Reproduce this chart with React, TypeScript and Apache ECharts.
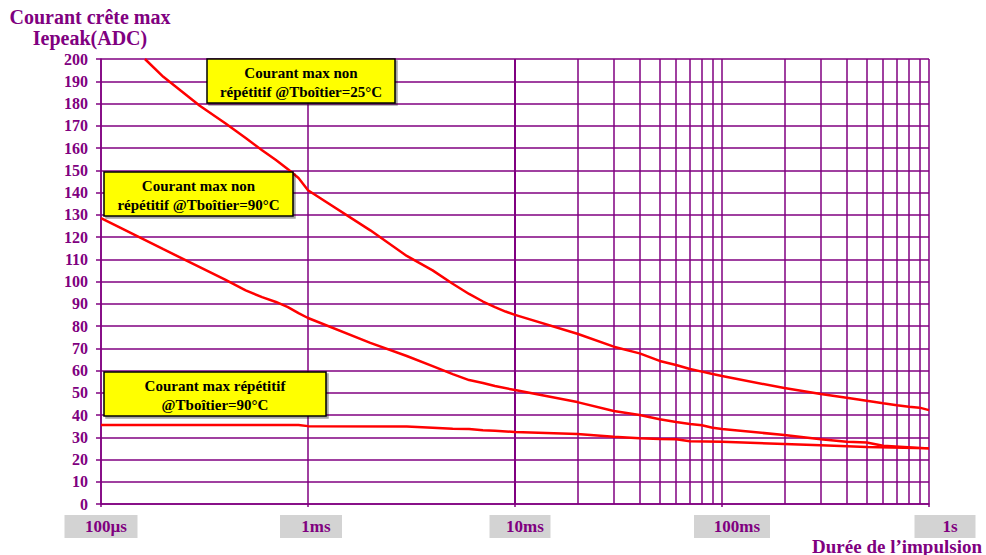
import React, { useEffect, useRef } from "react";
import * as echarts from "echarts";

// ---- data ----
const xTickLabels = ["100µs", "1ms", "10ms", "100ms", "1s"];
const minorGridValues = [
  2e-4, 3e-4, 4e-4, 5e-4, 6e-4, 7e-4, 8e-4, 9e-4,
  2e-3, 3e-3, 4e-3, 5e-3, 6e-3, 7e-3, 8e-3, 9e-3,
  2e-2, 3e-2, 4e-2, 5e-2, 6e-2, 7e-2, 8e-2, 9e-2,
  0.2, 0.3, 0.4, 0.5, 0.6, 0.7, 0.8, 0.9,
];

const t25 = [1.63e-4, 2e-4, 3e-4, 4e-4, 5e-4, 6e-4, 7e-4, 8e-4, 9e-4, 1e-3, 2e-3, 3e-3, 4e-3, 5e-3, 6e-3, 7e-3, 8e-3, 9e-3, 1e-2, 2e-2, 3e-2, 4e-2, 5e-2, 6e-2, 7e-2, 8e-2, 9e-2, 0.1, 0.2, 0.3, 0.4, 0.5, 0.6, 0.7, 0.8, 0.9, 1];
const v25 = [200, 192, 179, 171, 164.5, 159, 154.6, 150.5, 146.5, 141, 123, 111.5, 105, 99, 94.4, 91, 88.5, 86.5, 85, 76.5, 70.7, 67.7, 64.3, 62.5, 60.7, 59.5, 58.4, 57.5, 52.1, 49.4, 47.8, 46.4, 45.3, 44.4, 43.7, 43.3, 42.2];

const t90 = [1e-4, 2e-4, 3e-4, 4e-4, 5e-4, 6e-4, 7e-4, 8e-4, 9e-4, 1e-3, 2e-3, 3e-3, 4e-3, 5e-3, 6e-3, 7e-3, 8e-3, 1e-2, 2e-2, 3e-2, 4e-2, 5e-2, 6e-2, 7e-2, 8e-2, 9e-2, 0.1, 0.2, 0.3, 0.4, 0.5, 0.6, 1];
const v90 = [128.5, 114.5, 106.5, 100.7, 96, 93, 90.8, 88.5, 85.8, 83.6, 72.4, 66.5, 62, 58.4, 55.7, 54.4, 53, 51.2, 45.8, 41.8, 40, 38.1, 36.9, 36, 35.4, 34.3, 33.7, 31, 29.1, 28, 27.6, 26.2, 25];

const tRep = [1e-4, 9e-4, 1e-3, 3e-3, 4e-3, 5e-3, 6e-3, 7e-3, 8e-3, 1e-2, 2e-2, 3e-2, 4e-2, 5e-2, 6e-2, 7e-2, 0.1, 0.2, 0.3, 0.5, 1];
const vRep = [35.5, 35.5, 35, 34.8, 34.3, 33.8, 33.7, 33.2, 32.9, 32.4, 31.5, 30.2, 29.6, 29.2, 29.1, 28.2, 28, 27, 26.4, 25.6, 25];

const PURPLE = "#800080";
const SERIF = '"Liberation Serif", "Times New Roman", serif';

const boxWidths = [73, 62, 61, 76, 61];
const boxShift = [0, 6, 10, 20, 32];

function pairs(t: number[], v: number[]) {
  return t.map((x, i) => [x, v[i]]);
}

export default function App() {
  const ref = useRef<HTMLDivElement>(null);
  useEffect(() => {
    if (!ref.current) return;
    const chart = echarts.init(ref.current, null, { renderer: "svg" });
    const rich: any = {};
    boxWidths.forEach((w, i) => {
      rich["s" + i] = { width: boxShift[i], height: 23 };
      rich["b" + i] = {
        backgroundColor: "#d3d3d3",
        width: w - 10,
        height: 23,
        lineHeight: 23,
        padding: [0, 0, 0, 10],
        align: "center",
        verticalAlign: "middle",
        fontSize: 17,
        fontWeight: "bold",
        fontFamily: SERIF,
        color: PURPLE,
      };
    });
    const redLine = { color: "#ff0000", width: 2.5 };
    const annot = (x: number, y: number, w: number, h: number, text: string) => ({
      type: "group",
      z: 100,
      children: [
        {
          type: "rect",
          z: 100,
          shape: { x, y, width: w, height: h },
          style: {
            fill: "#ffff00",
            stroke: "#000",
            lineWidth: 1.5,
            shadowColor: "rgba(0,0,0,0.35)",
            shadowOffsetX: 2,
            shadowOffsetY: 2,
            shadowBlur: 1,
          },
        },
        {
          type: "text",
          z: 101,
          x: x + w / 2,
          y: y + h / 2 + 1,
          style: {
            text,
            align: "center",
            verticalAlign: "middle",
            font: `bold 15px ${SERIF}`,
            lineHeight: 19,
            fill: "#000",
          },
        },
      ],
    });
    chart.setOption({
      animation: false,
      grid: { left: 101, right: 57, top: 59, bottom: 51, containLabel: false },
      xAxis: {
        type: "log",
        logBase: 10,
        min: 1e-4,
        max: 1,
        axisLine: { show: true, lineStyle: { color: PURPLE, width: 1.5 } },
        axisTick: { show: true, length: 3, lineStyle: { color: PURPLE, width: 1.5 } },
        splitLine: { show: true, lineStyle: { color: PURPLE, width: 1.5 } },
        axisLabel: {
          show: true,
          margin: 11,
          showMinLabel: true,
          showMaxLabel: true,
          formatter: (v: number) => {
            const i = Math.round(Math.log10(v)) + 4;
            return `{s${i}| }{b${i}|${xTickLabels[i]}}`;
          },
          rich,
        },
      },
      yAxis: {
        type: "value",
        min: 0,
        max: 200,
        interval: 10,
        axisLine: { show: true, lineStyle: { color: PURPLE, width: 1.5 } },
        axisTick: { show: true, length: 5, lineStyle: { color: PURPLE, width: 1.5 } },
        splitLine: { show: true, lineStyle: { color: PURPLE, width: 1.5 } },
        axisLabel: {
          margin: 13,
          color: PURPLE,
          fontSize: 16,
          fontWeight: "bold",
          fontFamily: SERIF,
        },
      },
      series: [
        {
          type: "line",
          data: [],
          z: 1,
          silent: true,
          markLine: {
            silent: true,
            symbol: ["none", "none"],
            label: { show: false },
            emphasis: { disabled: true },
            lineStyle: { color: PURPLE, width: 1.5, type: "solid" },
            data: minorGridValues.map((v) => ({ xAxis: v })),
          },
        },
        { type: "line", z: 5, data: pairs(t25, v25), showSymbol: false, lineStyle: redLine, itemStyle: { color: "#ff0000" } },
        { type: "line", z: 5, data: pairs(t90, v90), showSymbol: false, lineStyle: redLine, itemStyle: { color: "#ff0000" } },
        { type: "line", z: 5, data: pairs(tRep, vRep), showSymbol: false, lineStyle: redLine, itemStyle: { color: "#ff0000" } },
      ],
      graphic: [
        {
          type: "text",
          z: 100,
          x: 90,
          y: 6,
          style: {
            text: "Courant crête max\nIepeak(ADC)",
            align: "center",
            verticalAlign: "top",
            font: `bold 20px ${SERIF}`,
            lineHeight: 21,
            fill: PURPLE,
          },
        },
        {
          type: "text",
          z: 100,
          x: 982,
          y: 555,
          style: {
            text: "Durée de l’impulsion",
            align: "right",
            verticalAlign: "bottom",
            font: `bold 19px ${SERIF}`,
            lineHeight: 18,
            fill: PURPLE,
          },
        },
        annot(207, 59, 188, 44, "Courant max non\nrépétitif @Tboîtier=25°C"),
        annot(104, 172, 189, 44, "Courant max non\nrépétitif @Tboîtier=90°C"),
        annot(104, 372, 222, 44, "Courant max répétitif\n@Tboîtier=90°C"),
      ],
    });
    return () => chart.dispose();
  }, []);
  return (
    <div
      ref={ref}
      style={{ position: "absolute", left: 0, top: 0, width: 986, height: 555, background: "#fff" }}
    />
  );
}
